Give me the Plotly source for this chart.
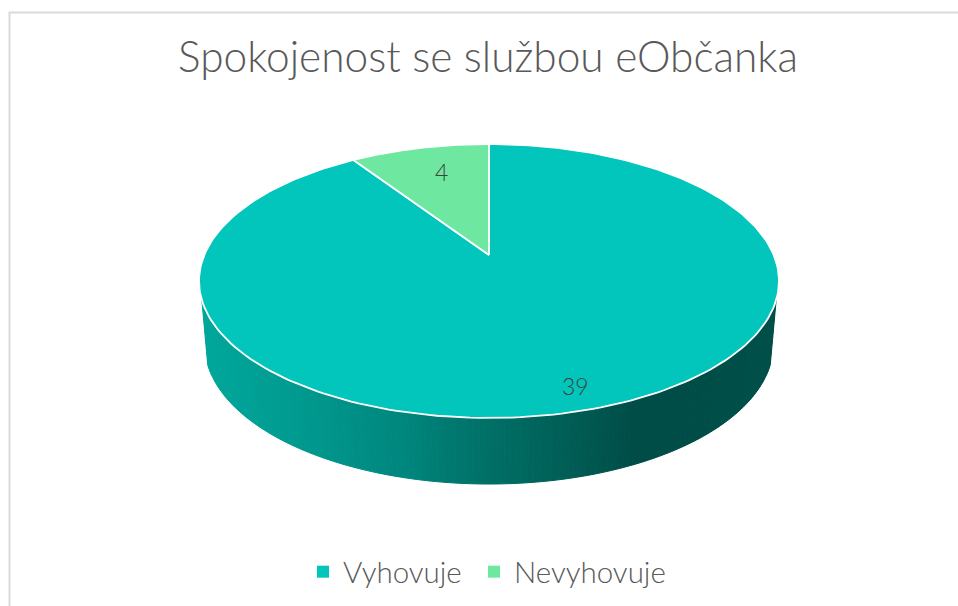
import numpy as np
import plotly.graph_objects as go

# --- data ---
title_text = "Spokojenost se službou eObčanka"
categories = ["Vyhovuje", "Nevyhovuje"]
values = [39, 4]

# --- style ---
slice_colors = ["#02C6BB", "#6EE8A0"]
FONT = "Lato"
W, H = 958, 606
wall_stops_x = [199, 300, 400, 480, 560, 640, 779]
wall_stops_g = [168, 154, 136, 114, 96, 76, 80]
wall_stops_b = [156, 144, 127, 105, 88, 70, 74]
legend_left_px = [303, 474]

# perspective projection of the pie's unit circle onto the page (pixels)
K = 0.19
TOP = dict(cx=489, cy=255, a=284.7, b=132)
BOT = dict(cx=489, cy=318.6, a=278.9, b=134)


def project(theta_deg, r=1.0, p=TOP):
    t = np.radians(np.asarray(theta_deg, dtype=float))
    u, v = r * np.sin(t), -r * np.cos(t)
    d = 1 - K * v
    return p["cx"] + p["a"] * u / d, p["cy"] + p["b"] * v / d


total = sum(values)
edges = np.concatenate([[0], np.cumsum(values) / total * 360])

fig = go.Figure()

# side wall, shaded in narrow strips
wall_angles = np.linspace(108.7, 251.3, 144)
for t0, t1 in zip(wall_angles[:-1], wall_angles[1:]):
    xt, yt = project([t0, t1], p=TOP)
    xb, yb = project([t1, t0], p=BOT)
    xs = list(xt) + list(xb) + [xt[0]]
    ys = list(yt) + list(yb) + [yt[0]]
    xm = float(np.mean(xs))
    g = int(np.interp(xm, wall_stops_x, wall_stops_g))
    b = int(np.interp(xm, wall_stops_x, wall_stops_b))
    col = f"rgb(0,{g},{b})"
    fig.add_trace(go.Scatter(x=xs, y=ys, mode="lines", fill="toself", fillcolor=col,
                             line=dict(color=col, width=1), showlegend=False, hoverinfo="skip"))

# top face
for i, name in enumerate(categories):
    th = np.linspace(edges[i], edges[i + 1], 240)
    xa, ya = project(th)
    xc, yc = project([0], r=0)
    fig.add_trace(go.Scatter(x=[xc[0], *xa, xc[0]], y=[yc[0], *ya, yc[0]], mode="lines", fill="toself",
                             fillcolor=slice_colors[i], line=dict(color="white", width=1.8),
                             showlegend=False, name=name, hoverinfo="name"))

# legend entries, one legend each so their positions can be set independently
legend_ids = ["legend", "legend2"]
for i, name in enumerate(categories):
    fig.add_trace(go.Scatter(x=[None], y=[None], mode="markers", name=name, legend=legend_ids[i],
                             marker=dict(symbol="square", size=9, color=slice_colors[i])))

# data labels
label_r = [0.87, 0.72]
label_shift = [(2, 0), (5, 3)]
annotations = []
for i, v in enumerate(values):
    mid = (edges[i] + edges[i + 1]) / 2
    x, y = project([mid], r=label_r[i])
    annotations.append(dict(x=float(x[0]), y=float(y[0]), text=str(v), showarrow=False,
                            xshift=label_shift[i][0], yshift=label_shift[i][1],
                            font=dict(family=FONT, size=23, color="#404040", weight=300)))


def legend_layout(left_px):
    return dict(orientation="h", x=left_px / W, xanchor="left", y=1 - 572 / H, yanchor="middle",
                font=dict(family=FONT, size=29.5, color="#595959", weight=300),
                itemsizing="constant", bgcolor="rgba(0,0,0,0)")


fig.update_layout(
    width=W, height=H, margin=dict(l=0, r=0, t=0, b=0),
    paper_bgcolor="white", plot_bgcolor="white",
    title=dict(text=title_text, x=488 / W, xanchor="center", y=1 - 57 / H, yanchor="middle",
               font=dict(family=FONT, size=42.4, color="#595959", weight=300)),
    xaxis=dict(range=[0, W], visible=False, fixedrange=True),
    yaxis=dict(range=[H, 0], visible=False, fixedrange=True),
    legend=legend_layout(legend_left_px[0]),
    legend2=legend_layout(legend_left_px[1]),
    annotations=annotations,
    shapes=[dict(type="rect", xref="x", yref="y", x0=9.5, y0=12.5, x1=W + 20, y1=H + 20,
                 line=dict(color="#D9D9D9", width=2), layer="below")],
    showlegend=True,
)

fig.write_html("out.html", config=dict(displayModeBar=False),
               post_script="document.body.style.margin='0';document.documentElement.style.overflow='hidden';")
